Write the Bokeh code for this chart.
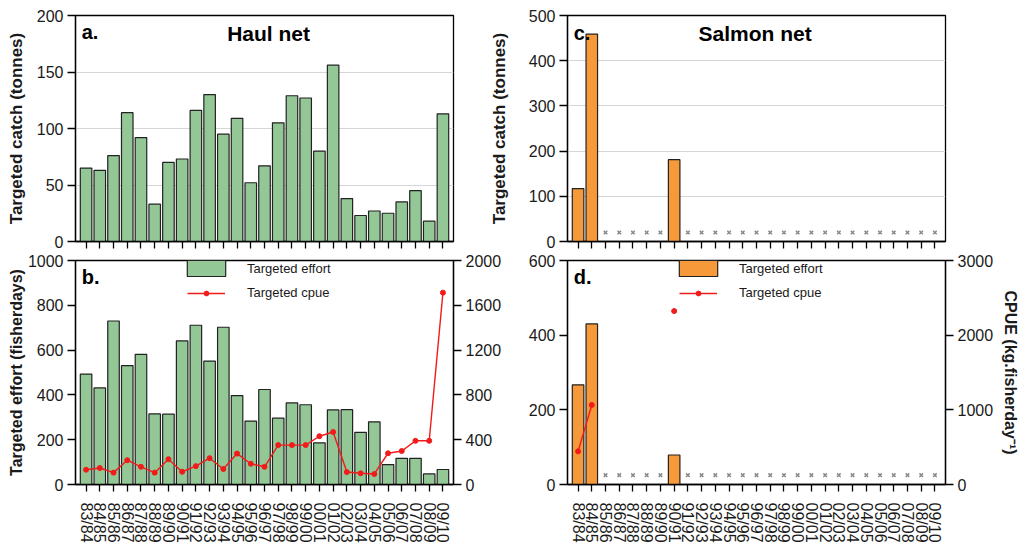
import math
from bokeh.plotting import figure
from bokeh.models import Range1d, LinearAxis, FixedTicker, Label, Legend, LegendItem
from bokeh.layouts import column, row
from bokeh.embed import file_html
from bokeh.resources import INLINE

# ---------------- data ----------------
seasons = ["83/84", "84/85", "85/86", "86/87", "87/88", "88/89", "89/90", "90/91",
           "91/92", "92/93", "93/94", "94/95", "95/96", "96/97", "97/98", "98/99",
           "99/00", "00/01", "01/02", "02/03", "03/04", "04/05", "05/06", "06/07",
           "07/08", "08/09", "09/10"]

haul_catch = [65, 63, 76, 114, 92, 33, 70, 73, 116, 130, 95, 109, 52, 67, 105, 129,
              127, 80, 156, 38, 23, 27, 25, 35, 45, 18, 113]
haul_effort = [493, 431, 730, 531, 581, 315, 314, 641, 711, 551, 702, 397, 283, 424,
               296, 364, 356, 186, 333, 334, 233, 280, 89, 117, 117, 47, 67]
haul_cpue = [132, 147, 106, 217, 158, 106, 226, 114, 164, 235, 138, 276, 185, 158,
             352, 352, 352, 431, 469, 111, 100, 94, 279, 299, 390, 390, 1713]

N = None
salmon_catch = [117, 459, N, N, N, N, N, 181, N, N, N, N, N, N, N, N, N, N, N, N,
                N, N, N, N, N, N, N]
salmon_effort = [267, 430, N, N, N, N, N, 79, N, N, N, N, N, N, N, N, N, N, N, N,
                 N, N, N, N, N, N, N]
salmon_cpue = [444, 1065, N, N, N, N, N, 2323, N, N, N, N, N, N, N, N, N, N, N, N,
               N, N, N, N, N, N, N]

# ---------------- style ----------------
FONT = "Liberation Sans"
GREEN = "#93C795"
ORANGE = "#F5993A"
RED = "#F21B1B"
TXT = "#1a1a1a"
XR = (-0.77, 26.77)
xs = list(range(len(seasons)))


def nanify(v):
    return [float("nan") if a is None else a for a in v]


def style_y(ax, ticks):
    ax.ticker = FixedTicker(ticks=ticks)
    ax.axis_line_color = "black"
    ax.axis_line_width = 1.3
    ax.major_tick_out = 8
    ax.major_tick_in = 0
    ax.major_tick_line_width = 1.3
    ax.minor_tick_out = 0
    ax.minor_tick_in = 0
    ax.major_label_text_font = FONT
    ax.major_label_text_font_size = "16px"
    ax.major_label_text_color = TXT
    ax.major_label_standoff = 4
    ax.axis_label_text_font = FONT
    ax.axis_label_text_font_style = "bold"
    ax.axis_label_text_color = TXT


def style_x(ax, labels):
    ax.ticker = FixedTicker(ticks=xs)
    ax.axis_line_color = "black"
    ax.axis_line_width = 1.3
    ax.major_tick_out = 7
    ax.major_tick_in = 0
    ax.major_tick_line_width = 1.3
    ax.minor_tick_out = 0
    ax.minor_tick_in = 0
    ax.major_label_text_font = FONT
    ax.major_label_text_color = TXT
    if labels:
        ax.major_label_overrides = {i: s for i, s in enumerate(seasons)}
        ax.major_label_orientation = "vertical"
        ax.major_label_text_font_size = "16px"
        ax.major_label_standoff = 11
    else:
        ax.major_label_overrides = {i: "" for i in xs}
        ax.major_label_text_font_size = "0px"
        ax.major_label_standoff = 0


def make(width, height, yr, mbl, mbr, mbt, mbb):
    p = figure(width=width, height=height, x_range=Range1d(*XR), y_range=Range1d(*yr),
               output_backend="svg", toolbar_location=None,
               min_border_left=mbl, min_border_right=mbr,
               min_border_top=mbt, min_border_bottom=mbb)
    p.outline_line_color = "black"
    p.outline_line_width = 1.3
    p.background_fill_color = "white"
    p.border_fill_color = "white"
    p.xgrid.visible = False
    p.ygrid.grid_line_color = "#d6d6d6"
    p.ygrid.grid_line_width = 1.2
    return p


def add_text(p, x, y, text, size, align="left"):
    p.add_layout(Label(x=x, y=y, text=text, text_font=FONT, text_font_size=size,
                       text_font_style="bold", text_color="black",
                       text_align=align, text_baseline="middle"))


def style_legend(leg, gw, gh, lh, standoff):
    leg.orientation = "vertical"
    leg.glyph_width = gw
    leg.glyph_height = gh
    leg.label_height = lh
    leg.label_standoff = standoff
    leg.spacing = 0
    leg.padding = 0
    leg.margin = 0
    leg.border_line_color = None
    leg.background_fill_alpha = 0
    leg.label_text_font = FONT
    leg.label_text_font_size = "13px"
    leg.label_text_color = TXT


def make_legends(p, bars, line, pts):
    leg1 = Legend(items=[LegendItem(label="Targeted effort", renderers=[bars])],
                  location=(107, 206))
    style_legend(leg1, 48, 20, 20, 17)
    leg2 = Legend(items=[LegendItem(label="Targeted cpue", renderers=[line, pts])],
                  location=(112, 184))
    style_legend(leg2, 38, 12, 13, 22)
    p.add_layout(leg1)
    p.add_layout(leg2)


# ---------------- panel a: haul net catch ----------------
pa = make(470, 253, (0, 200), 75, 17, 15, 12)
pa.vbar(x=xs, top=haul_catch, width=0.84, fill_color=GREEN,
        line_color="#222222", line_width=1.2)
style_y(pa.yaxis[0], [0, 50, 100, 150, 200])
pa.ygrid.ticker = FixedTicker(ticks=[50, 100, 150])
pa.yaxis[0].axis_label = "Targeted catch (tonnes)"
pa.yaxis[0].axis_label_text_font_size = "17px"
pa.yaxis[0].axis_label_standoff = 8
style_x(pa.xaxis[0], False)
add_text(pa, -0.32, 185, "a.", "20px")
add_text(pa, 13.3, 184, "Haul net", "21px", "center")

# ---------------- panel c: salmon net catch ----------------
pc = make(553, 253, (0, 500), 97, 78, 15, 12)
pc.vbar(x=xs, top=nanify(salmon_catch), width=0.84, fill_color=ORANGE,
        line_color="#222222", line_width=1.2)
miss_c = [i for i, v in enumerate(salmon_catch) if v is None]
pc.scatter(x=miss_c, y=[20] * len(miss_c), marker="x", size=5,
           line_color="#8a8a8a", line_width=1.5)
style_y(pc.yaxis[0], [0, 100, 200, 300, 400, 500])
pc.ygrid.ticker = FixedTicker(ticks=[100, 200, 300, 400])
pc.yaxis[0].axis_label = "Targeted catch (tonnes)"
pc.yaxis[0].axis_label_text_font_size = "17px"
pc.yaxis[0].axis_label_standoff = 17
style_x(pc.xaxis[0], False)
add_text(pc, -0.32, 462, "c.", "20px")
add_text(pc, 12.9, 460, "Salmon net", "21px", "center")

# ---------------- panel b: haul net effort + cpue ----------------
pb = make(512, 292, (0, 1000), 75, 59, 7, 58)
pb.ygrid.visible = False
pb.extra_y_ranges = {"cpue": Range1d(0, 2000)}
bars_b = pb.vbar(x=xs, top=haul_effort, width=0.84, fill_color=GREEN,
                 line_color="#222222", line_width=1.2)
line_b = pb.line(x=xs, y=haul_cpue, y_range_name="cpue", line_color=RED, line_width=1.4)
pts_b = pb.scatter(x=xs, y=haul_cpue, y_range_name="cpue", marker="circle", size=5,
                   fill_color=RED, line_color=RED)
style_y(pb.yaxis[0], [0, 200, 400, 600, 800, 1000])
pb.yaxis[0].axis_label = "Targeted effort (fisherdays)"
pb.yaxis[0].axis_label_text_font_size = "16px"
pb.yaxis[0].axis_label_standoff = 0
rb = LinearAxis(y_range_name="cpue")
style_y(rb, [0, 400, 800, 1200, 1600, 2000])
pb.add_layout(rb, "right")
style_x(pb.xaxis[0], True)
add_text(pb, -0.32, 926, "b.", "20px")
make_legends(pb, bars_b, line_b, pts_b)

# ---------------- panel d: salmon net effort + cpue ----------------
pd = make(511, 292, (0, 600), 55, 78, 7, 58)
pd.ygrid.visible = False
pd.extra_y_ranges = {"cpue": Range1d(0, 3000)}
bars_d = pd.vbar(x=xs, top=nanify(salmon_effort), width=0.84, fill_color=ORANGE,
                 line_color="#222222", line_width=1.2)
line_d = pd.line(x=xs, y=nanify(salmon_cpue), y_range_name="cpue", line_color=RED,
                 line_width=1.4)
pts_d = pd.scatter(x=xs, y=nanify(salmon_cpue), y_range_name="cpue", marker="circle",
                   size=5, fill_color=RED, line_color=RED)
miss_d = [i for i, v in enumerate(salmon_effort) if v is None]
pd.scatter(x=miss_d, y=[25] * len(miss_d), marker="x", size=5,
           line_color="#8a8a8a", line_width=1.5)
style_y(pd.yaxis[0], [0, 200, 400, 600])
rd = LinearAxis(y_range_name="cpue")
style_y(rd, [0, 1000, 2000, 3000])
rd.axis_label = "CPUE (kg.fisherday\u207b\u00b9)"
rd.axis_label_text_font_size = "16px"
rd.axis_label_standoff = 6
pd.add_layout(rd, "right")
style_x(pd.xaxis[0], True)
add_text(pd, -0.32, 556, "d.", "20px")
make_legends(pd, bars_d, line_d, pts_d)

layout = column(row(pa, pc, spacing=0), row(pb, pd, spacing=0), spacing=0)

open("out.html", "w").write(file_html(layout, INLINE))
